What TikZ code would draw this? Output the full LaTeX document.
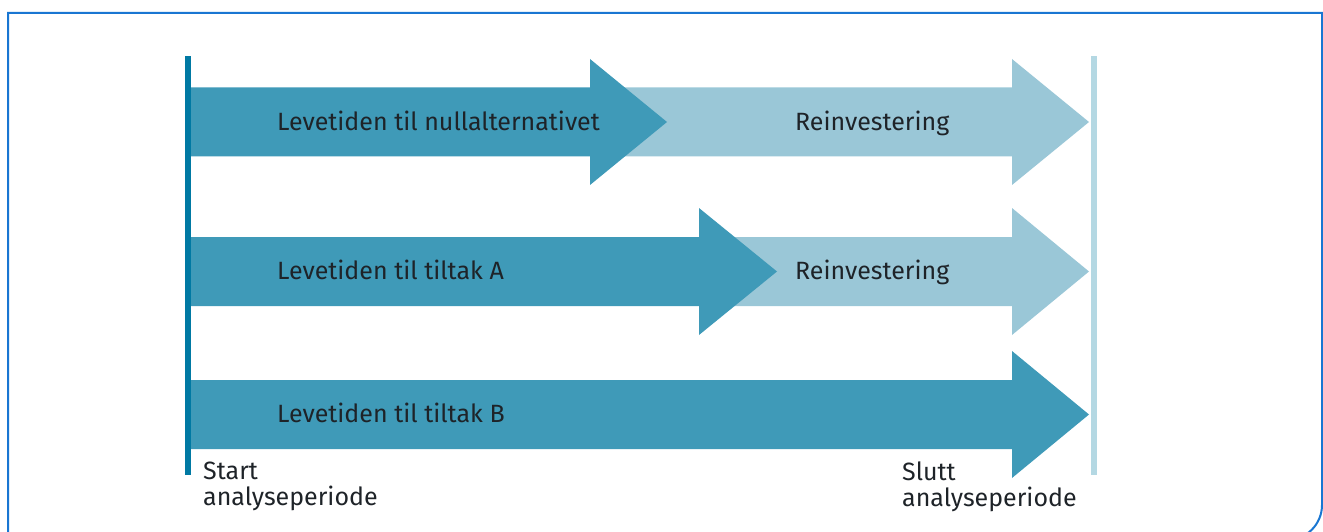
\documentclass[tikz,border=0pt]{standalone}
\usepackage{fontspec}
\setmainfont{Fira Sans}
\usetikzlibrary{positioning}
\definecolor{myFrame}{RGB}{25,118,210}
\definecolor{myDark}{RGB}{63,154,184}
\definecolor{myLight}{RGB}{154,199,215}
\definecolor{myStart}{RGB}{0,121,163}
\definecolor{myEnd}{RGB}{180,216,227}
\definecolor{myText}{RGB}{30,35,40}

\begin{document}
\begin{tikzpicture}[x=1pt, y=-1pt,
		lbl/.style={anchor=base west, inner sep=0pt, text=myText, font=\fontsize{25}{26}\selectfont},
		endlbl/.style={anchor=north west, inner sep=0pt, align=left, text=myText, font=\fontsize{25}{26}\selectfont}]
			\useasboundingbox (0,0) rectangle (1323,532);
			\clip (0,0) rectangle (1323,532);
			% Frame
			\draw[myFrame, line width=2] (8,560) -- (8,13) -- (1322,13) -- (1322,505) .. controls (1322,524.3) and (1306.3,540) .. (1287,540) -- (8,540);
			% Reinvestering (light arrows)
			\fill[myLight] (600,87.5) -- (1012,87.5) -- (1012,59) -- (1089,122) -- (1012,185) -- (1012,156.5) -- (600,156.5) -- cycle;
			\fill[myLight] (720,237) -- (1012,237) -- (1012,208) -- (1089,271.5) -- (1012,335) -- (1012,306) -- (720,306) -- cycle;
			% Levetid (dark arrows)
			\fill[myDark] (188,87.5) -- (590,87.5) -- (590,59) -- (667,122) -- (590,185) -- (590,156.5) -- (188,156.5) -- cycle;
			\fill[myDark] (188,237) -- (699,237) -- (699,208) -- (777,271.5) -- (699,335) -- (699,306) -- (188,306) -- cycle;
			\fill[myDark] (188,380) -- (1012,380) -- (1012,351) -- (1089,414.5) -- (1012,478) -- (1012,449) -- (188,449) -- cycle;
			% Start and end of period
			\fill[myStart] (185,56) rectangle (191,475);
			\fill[myEnd] (1091,56) rectangle (1097,475);
			% Labels
			\node[lbl] (nullalt) at (277,130.5) {Levetiden til nullalternativet};
			\node[lbl] (reinv1) at (795,130.5) {Reinvestering};
			\node[lbl] (tiltakA) at (277,279.5) {Levetiden til tiltak A};
			\node[lbl] (reinv2) at (795,279.5) {Reinvestering};
			\node[lbl] (tiltakB) at (277,422.5) {Levetiden til tiltak B};
			\node[endlbl] (start) at (203,462) {Start\\analyseperiode};
			\node[endlbl] (slutt) at (902,462) {Slutt\\analyseperiode};
		\end{tikzpicture}
\end{document}
